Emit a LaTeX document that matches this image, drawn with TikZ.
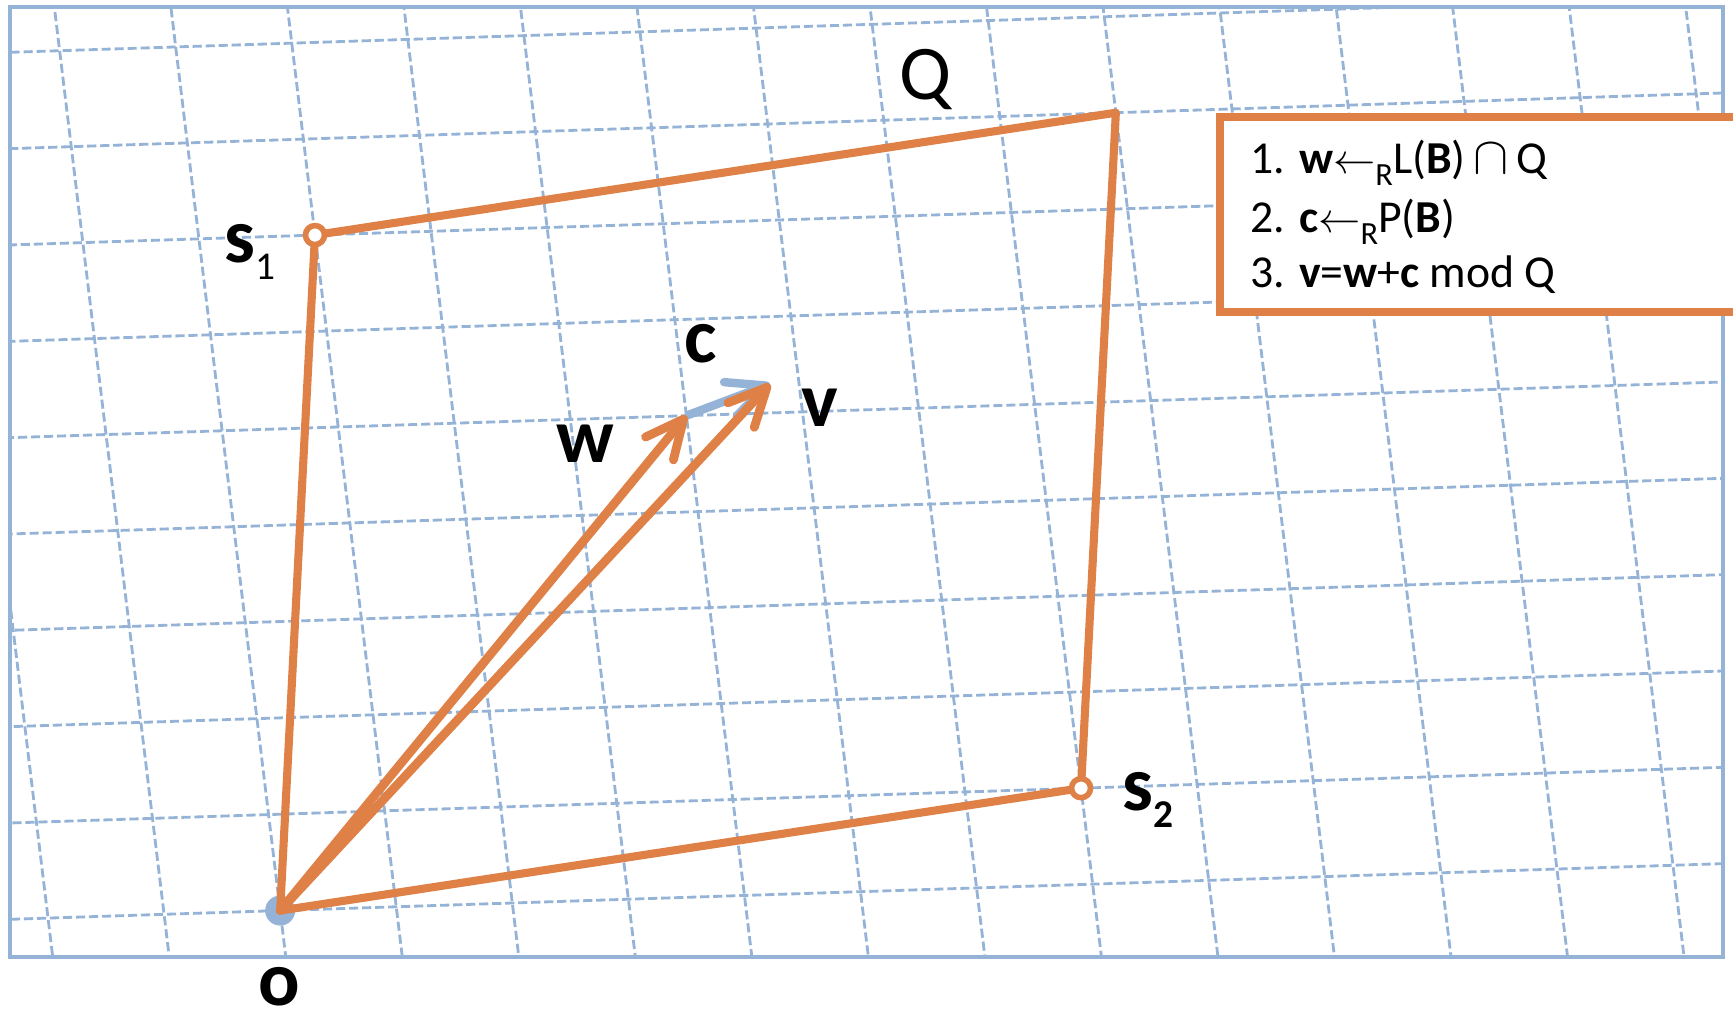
\documentclass[tikz,border=0pt]{standalone}
\usepackage{fontspec}
\setmainfont{Carlito}
\usetikzlibrary{arrows.meta}
\definecolor{latorange}{RGB}{223,128,70}
\definecolor{latblue}{RGB}{149,179,215}
\newcommand{\rsub}{\raisebox{-3.6pt}{\fontsize{9.2}{10}\selectfont R}}
\newcommand{\lblsub}[1]{\raisebox{-5pt}{\fontsize{11.2}{13}\selectfont #1}}
\tikzset{
    gridline/.style={latblue,line width=0.8pt,dash pattern=on 2.6pt off 1.1pt},
    framebox/.style={latblue,line width=1.1pt},
    edgeline/.style={latorange,line width=2.3pt,line join=round},
    vecline/.style={latorange,line width=2.5pt,line cap=round,-{Straight Barb[length=3.8mm,width=3.6mm,round]}},
    cline/.style={latblue,line width=2.4pt,-{Straight Barb[length=3.8mm,width=3.6mm,round]}},
    cornerdot/.style={circle,draw=latorange,fill=white,line width=1.6pt,inner sep=0pt,minimum size=0.19cm},
    origindot/.style={circle,fill=latblue,inner sep=0pt,minimum size=0.3cm},
    lbl/.style={inner sep=0pt,font=\fontsize{22}{26}\selectfont\bfseries},
    alg/.style={anchor=base west,inner sep=0pt,font=\fontsize{13}{15}\selectfont},
    legendbox/.style={draw=latorange,fill=white,line width=2.2pt}
}
\begin{document}
\begin{tikzpicture}[x=0.01cm,y=-0.01cm]
        \useasboundingbox (0,0) rectangle (1733,1014);
        \begin{scope}
            \clip (10,7) rectangle (1723,957);
            \begin{scope}[shift={(2.8cm,-9.1cm)},x={(1.16cm,0.0377cm)},y={(-0.116cm,0.959cm)}]
                \foreach \j in {-3,...,14}
                    \draw[gridline] (\j,-2) -- (\j,11);
                \foreach \k in {-1,...,10}
                    \draw[gridline] (-4,\k) -- (15,\k);
                \coordinate (o) at (0,0);
                \coordinate (s1) at (1,7);
                \coordinate (s2) at (7,1);
                \coordinate (qc) at (8,8);
                \coordinate (w) at (4,5);
                \coordinate (v) at (4.75,5.3);
            \end{scope}
        \end{scope}
        \draw[framebox] (10,7) rectangle (1723,957);

        \node[origindot] (odot) at (o) {};
        \draw[edgeline] (o) -- (s1) -- (qc) -- (s2) -- cycle;
        \draw[cline] (w) -- (v);
        \draw[vecline] (o) -- (w);
        \draw[vecline] (o) -- (v);
        \node[cornerdot] (s1dot) at (s1) {};
        \node[cornerdot] (s2dot) at (s2) {};

        \node[inner sep=0pt,anchor=base,font=\fontsize{22}{26}\selectfont] (qlbl) at (926,99) {Q};
        \node[lbl,anchor=base west] (s1lbl) at (224,262) {s\lblsub{\mdseries 1}};
        \node[lbl,anchor=base west] (s2lbl) at (1122,810) {s\lblsub{2}};
        \node[lbl,anchor=base] (olbl) at (279,1005) {o};
        \node[lbl,anchor=base] (wlbl) at (585,462) {w};
        \node[lbl,anchor=base] (clbl) at (701,362) {c};
        \node[lbl,anchor=base] (vlbl) at (820,426) {v};

        \draw[legendbox] (1220,117) rectangle (1760,312);
        \node[alg] (alg1) at (1250,173) {1. \textbf{w}$\leftarrow$\rsub L(\textbf{B})\,\scalebox{1.25}{$\cap$}\,Q};
        \node[alg] (alg2) at (1250,232) {2. \textbf{c}$\leftarrow$\rsub P(\textbf{B})};
        \node[alg] (alg3) at (1250,287) {3. \textbf{v}=\textbf{w}+\textbf{c} mod Q};
\end{tikzpicture}
\end{document}
